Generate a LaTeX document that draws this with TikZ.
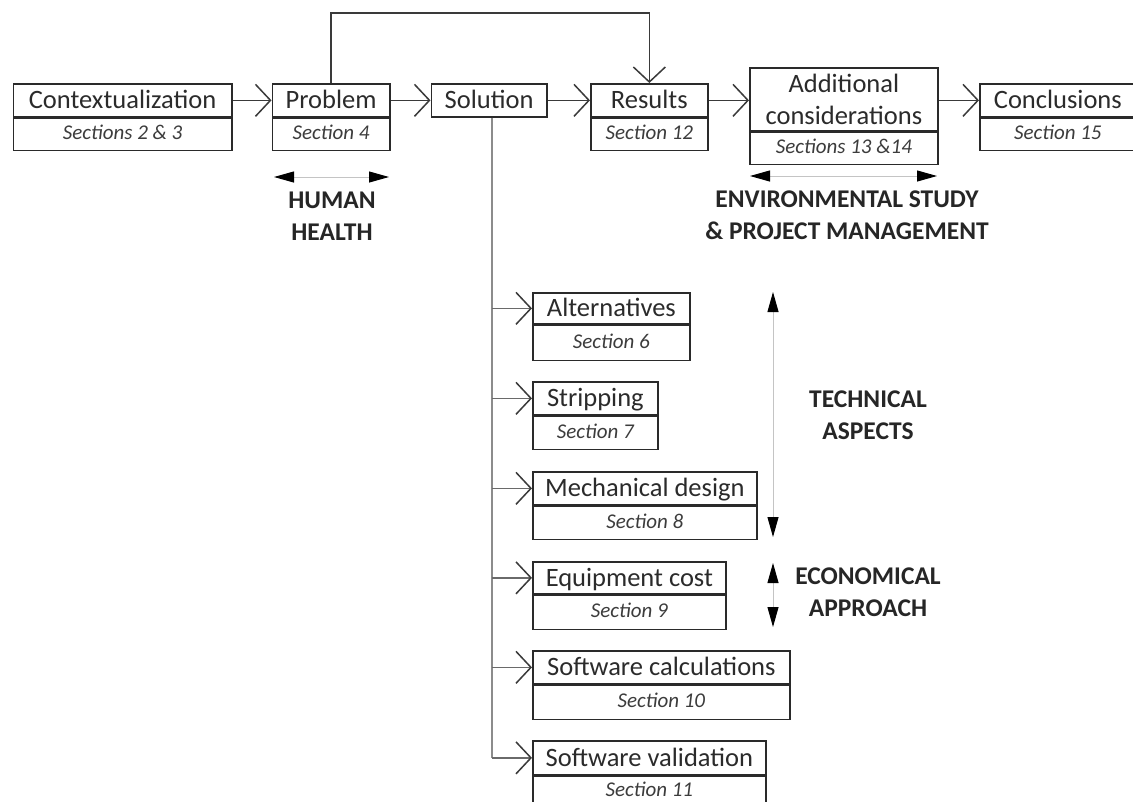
\documentclass[tikz,border=0pt]{standalone}
\usepackage{fontspec}
\setmainfont{Carlito}
\usetikzlibrary{arrows.meta}

\definecolor{boxc}{HTML}{2A2A2A}
\definecolor{txt}{HTML}{2B2B2B}
\definecolor{txtsec}{HTML}{3C3C3C}
\definecolor{flowc}{HTML}{3A3A3A}
\definecolor{trunkc}{HTML}{8C8C8C}
\definecolor{branchc}{HTML}{6A6A6A}
\definecolor{spanc}{HTML}{C4C4C4}
\definecolor{lblc}{HTML}{262626}

\tikzset{
  boxbase/.style={draw=boxc, line width=1.7pt, inner sep=0pt, anchor=north west, text=txt},
  ttl/.style={boxbase, font=\fontsize{26.5}{32}\selectfont, text height=21pt, text depth=4pt},
  ttlmulti/.style={boxbase, font=\fontsize{26.5}{32}\selectfont, align=center},
  sec/.style={boxbase, text=txtsec, font=\itshape\fontsize{21}{25}\selectfont, text height=15pt, text depth=5pt},
  flow/.style={draw=flowc, line width=1.5pt, -{Straight Barb[length=15pt,width=32pt,line width=1.5pt]}},
  trunkline/.style={draw=trunkc, line width=1.8pt},
  branch/.style={draw=branchc, line width=1.5pt, -{Straight Barb[length=15pt,width=32pt,line width=1.5pt,color=flowc]}},
  span/.style={draw=spanc, line width=1pt, {Triangle[length=20pt,width=11pt,color=black]}-{Triangle[length=20pt,width=11pt,color=black]}},
  lbl/.style={font=\bfseries\fontsize{25.5}{32}\selectfont, align=center, text=lblc, inner sep=0pt}
}

\begin{document}
\begin{tikzpicture}[x=1pt, y=-1pt]
\fill[white] (0,0) rectangle (1133,801);
\clip (0,0) rectangle (1133,801);

% main sequence of chapters
\node[ttl, minimum width=218.5pt, minimum height=33pt] (ctx) at (12.5,83) {Contextualization};
\node[sec, minimum width=218.5pt, minimum height=32pt] (ctxs) at (ctx.south west) {Sections 2 \& 3};

\node[ttl, minimum width=117.5pt, minimum height=33pt] (prob) at (271.5,83) {Problem};
\node[sec, minimum width=117.5pt, minimum height=32pt] (probs) at (prob.south west) {Section 4};

\node[ttl, minimum width=115.5pt, minimum height=33pt] (sol) at (430.5,83) {Solution};

\node[ttl, minimum width=117pt, minimum height=33pt] (res) at (590,83) {Results};
\node[sec, minimum width=117pt, minimum height=32pt] (ress) at (res.south west) {Section 12};

\node[ttlmulti, minimum width=188pt, minimum height=63pt] (add) at (749,67) {Additional\\considerations};
\node[sec, minimum width=188pt, minimum height=32pt] (adds) at (add.south west) {Sections 13 \&14};

% this box runs to the right edge of the page
\node[ttl, minimum width=156pt, minimum height=33pt] (conc) at (979,83) {Conclusions};
\node[sec, minimum width=156pt, minimum height=32pt] (concs) at (conc.south west) {Section 15};

% solution breakdown
\node[ttl, minimum width=157pt, minimum height=31pt] (alt) at (532,292) {Alternatives};
\node[sec, minimum width=157pt, minimum height=35pt] (alts) at (alt.south west) {Section 6};

\node[ttl, minimum width=125pt, minimum height=33pt] (strip) at (532,381) {Stripping};
\node[sec, minimum width=125pt, minimum height=33pt] (strips) at (strip.south west) {Section 7};

\node[ttl, minimum width=224pt, minimum height=33pt] (mech) at (532,471) {Mechanical design};
\node[sec, minimum width=224pt, minimum height=33pt] (mechs) at (mech.south west) {Section 8};

\node[ttl, minimum width=193pt, minimum height=32pt] (equip) at (532,561) {Equipment cost};
\node[sec, minimum width=193pt, minimum height=34pt] (equips) at (equip.south west) {Section 9};

\node[ttl, minimum width=257pt, minimum height=33pt] (swcalc) at (532,650) {Software calculations};
\node[sec, minimum width=257pt, minimum height=34pt] (swcalcs) at (swcalc.south west) {Section 10};

\node[ttl, minimum width=233pt, minimum height=34pt] (swval) at (532,740) {Software validation};
% the page ends just above the bottom edge of this last box
\node[sec, minimum width=233pt, minimum height=29pt] (swvals) at (swval.south west) {Section 11};

% flow between chapters
\draw[flow] (ctx.east) -- (prob.west);
\draw[flow] (prob.east) -- (sol.west);
\draw[flow] (sol.east) -- (res.west);
\draw[flow] (res.east) -- (res.east -| add.west);
\draw[flow] (conc.west -| add.east) -- (conc.west);
\draw[flow] (prob.north) -- ++(0,-70) -| (res.north);

% trunk from the solution to its parts
\coordinate (trunk) at ([xshift=3pt]sol.south);
\draw[trunkline] (trunk) -- (trunk |- swval.west);
\foreach \b in {alt, strip, mech, equip, swcalc, swval}
  \draw[branch] (trunk |- \b.west) -- (\b.west);

% thematic spans
\coordinate (hhL) at (274,177);
\coordinate (hhR) at (389,177);
\draw[span] (hhL) -- (hhR);
\node[lbl] (hh) at (332,216.5) {HUMAN\\HEALTH};

\coordinate (envL) at (750,176);
\coordinate (envR) at (937,176);
\draw[span] (envL) -- (envR);
\node[lbl] (env) at (847,215.5) {ENVIRONMENTAL STUDY\\\& PROJECT MANAGEMENT};

\coordinate (techT) at (773,292);
\coordinate (techB) at (773,537);
\draw[span] (techT) -- (techB);
\node[lbl] (tech) at (868,415) {TECHNICAL\\ASPECTS};

\coordinate (ecoT) at (773,563);
\coordinate (ecoB) at (773,627);
\draw[span] (ecoT) -- (ecoB);
\node[lbl] (eco) at (868,592.5) {ECONOMICAL\\APPROACH};
\end{tikzpicture}
\end{document}
